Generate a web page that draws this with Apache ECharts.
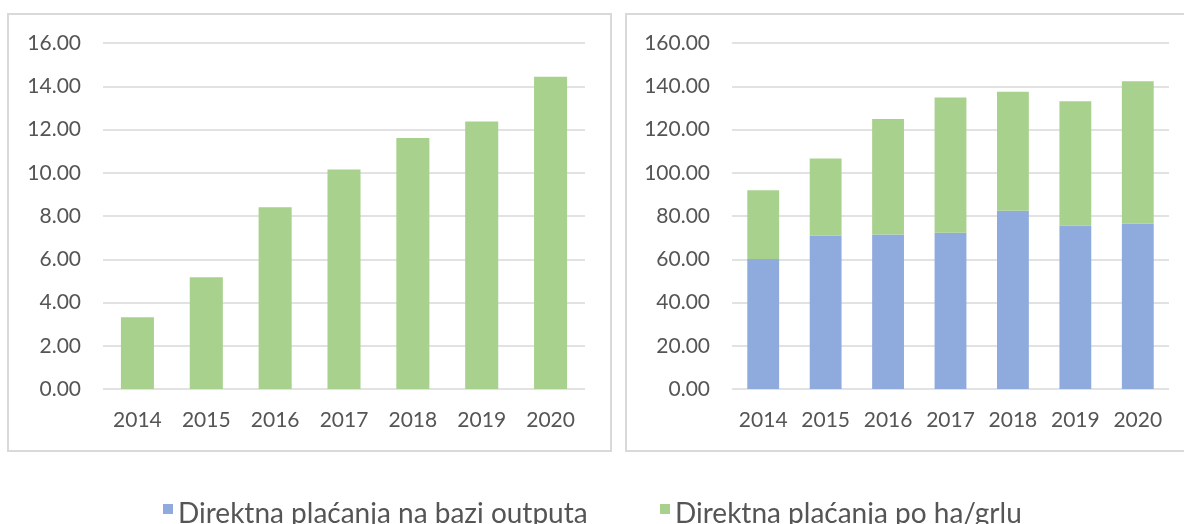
<!DOCTYPE html>
<html>
<head>
<meta charset="utf-8">
<script src="https://cdn.jsdelivr.net/npm/echarts@6/dist/echarts.min.js"></script>
<style>
    html, body { margin: 0; padding: 0; background: #fff; }
    #chart { width: 1184px; height: 524px; }
</style>
</head>
<body>
<div id="chart"></div>
<script>
// 数据
const years = ['2014', '2015', '2016', '2017', '2018', '2019', '2020'];
const leftValues = [3.32, 5.17, 8.41, 10.15, 11.61, 12.37, 14.44];
const outputValues = [60.1, 70.9, 71.4, 72.3, 82.4, 75.5, 76.4];
const haValues = [31.8, 35.7, 53.4, 62.5, 55.0, 57.6, 65.9];
const seriesNames = ['Direktna plaćanja na bazi outputa', 'Direktna plaćanja po ha/grlu'];

const blue = '#8FAADC';
const green = '#A9D18E';
const textColor = '#555555';
const gridColor = '#D9D9D9';
const font = 'Lato';

const chart = echarts.init(document.getElementById('chart'));

function yAxis(gridIndex, max, interval) {
    return {
        type: 'value',
        gridIndex: gridIndex,
        min: 0,
        max: max,
        interval: interval,
        axisLine: { show: false },
        axisTick: { show: false },
        axisLabel: {
            color: textColor,
            fontFamily: font,
            fontSize: 21,
            margin: 22,
            formatter: v => v.toFixed(2)
        },
        splitLine: { lineStyle: { color: gridColor, width: 1.5 } }
    };
}

function xAxis(gridIndex) {
    return {
        type: 'category',
        gridIndex: gridIndex,
        data: years,
        axisLine: { show: false },
        axisTick: { show: false },
        axisLabel: {
            interval: 0,
            color: textColor,
            fontFamily: font,
            fontSize: 21,
            margin: 21
        }
    };
}

// 图例：方块在上半部分（下半部分为空）
function legend(name, left) {
    return {
        data: [name],
        left: left, top: 495,
        itemWidth: 10, itemHeight: 20,
        icon: 'path://M0,0H10V10H0Z M0,20H10V20Z',
        textStyle: { color: textColor, fontFamily: font, fontSize: 28 }
    };
}

const option = {
    animation: false,
    graphic: [
        { type: 'rect', shape: { x: 8, y: 14, width: 603, height: 437 },
          style: { fill: 'none', stroke: gridColor, lineWidth: 2 } },
        { type: 'rect', shape: { x: 626, y: 14, width: 570, height: 437 },
          style: { fill: 'none', stroke: gridColor, lineWidth: 2 } }
    ],
    grid: [
        { left: 103, right: 599, top: 43, bottom: 135 },
        { left: 732, right: 15, top: 43, bottom: 135 }
    ],
    xAxis: [xAxis(0), xAxis(1)],
    yAxis: [yAxis(0, 16, 2), yAxis(1, 160, 20)],
    legend: [legend(seriesNames[0], 158), legend(seriesNames[1], 655)],
    series: [
        {
            type: 'bar',
            name: 'left',
            xAxisIndex: 0, yAxisIndex: 0,
            data: leftValues,
            barWidth: '48%',
            itemStyle: { color: green }
        },
        {
            type: 'bar',
            name: seriesNames[0],
            xAxisIndex: 1, yAxisIndex: 1,
            stack: 'total',
            data: outputValues,
            barWidth: '51%',
            itemStyle: { color: blue }
        },
        {
            type: 'bar',
            name: seriesNames[1],
            xAxisIndex: 1, yAxisIndex: 1,
            stack: 'total',
            data: haValues,
            barWidth: '51%',
            itemStyle: { color: green }
        }
    ]
};

chart.setOption(option);
</script>
</body>
</html>
